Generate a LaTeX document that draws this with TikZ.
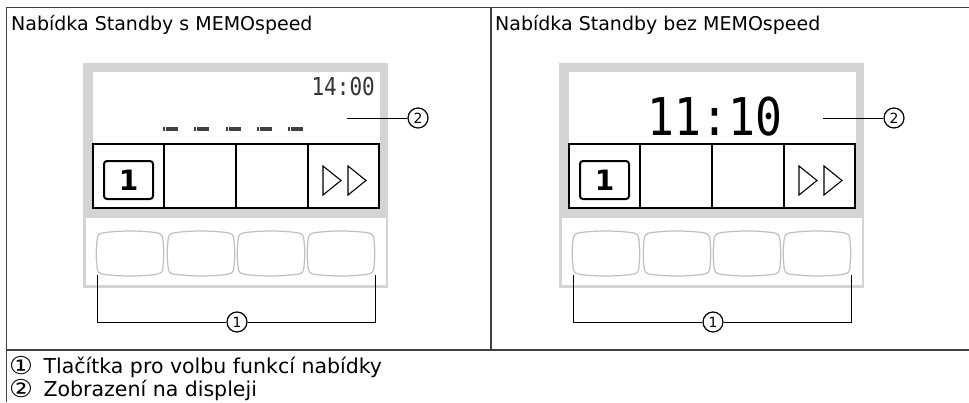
\documentclass[tikz,border=0pt]{standalone}
\usepackage{fontspec}
\usepackage{graphicx}
\setmainfont{DejaVu Sans}
\newfontfamily\lcdfont{DejaVu Sans Mono}
\usetikzlibrary{positioning}

\tikzset{
  grid line/.style={black!75,line width=1.5pt},
  key row/.style={draw=black,line width=1.8pt},
  soft key/.style={draw=black!25,line width=1.2pt},
  lcd dash/.style={black!75,line width=3.5pt,dash pattern=on 2.4pt off 0.7pt},
  callout/.style={draw,circle,line width=1.2pt,minimum size=20pt,inner sep=0pt,
    font=\fontsize{14}{14}\selectfont},
  leader/.style={black,line width=1pt},
  legend text/.style={anchor=base west,inner sep=0,font=\fontsize{20.5}{22}\selectfont},
}
\newcommand\legendmark[1]{\raisebox{-1.5pt}{\scalebox{1.3}[1.2]{#1}}\hspace{4pt}}

\begin{document}
\begin{tikzpicture}[x=1pt,y=-1pt,font=\fontsize{19}{21}\selectfont]
  \useasboundingbox (0,0) rectangle (969,402);
  % table
  \draw[grid line] (969,7.5) -- (6.5,7.5) -- (6.5,402);
  \draw[grid line] (6.5,350) -- (969,350);
  \draw[grid line] (491,7.5) -- (491,350);
  \node[anchor=base west,inner sep=0] (head1) at (11,30) {Nabídka Standby s MEMOspeed};
  \node[anchor=base west,inner sep=0] (head2) at (495,30) {Nabídka Standby bez MEMOspeed};
  % the device, once in each column
  \foreach \p in {0,476}{
    \begin{scope}[shift={(\p,0)}]
      \fill[black!17] (83,63) rectangle (388,288);
      \fill[white] (93,72) rectangle (380,208);
      \fill[white] (86,218) rectangle (385.5,284.5);
      \draw[key row] (93,144) rectangle (379,208);
      \foreach \x in {164,236,308} \draw[key row] (\x,144) -- (\x,208);
      \draw[black,line width=2pt,rounded corners=3pt] (104,161) rectangle (153,199);
      \node[font=\fontsize{28}{28}\selectfont\bfseries] (one\p) at (128.5,180.5) {1};
      \draw[black,line width=1.1pt] (323,166) -- (341,180.5) -- (323,195) -- cycle;
      \draw[black,line width=1.1pt] (348,166) -- (366,180.5) -- (348,195) -- cycle;
      % soft keys
      \foreach \k in {97,168,238,308}
        \draw[soft key] (\k+8,232.5) .. controls (\k+25,230.5) and (\k+41,230.5) .. (\k+58,232.5)
          .. controls (\k+64,233) and (\k+66,235) .. (\k+66,241)
          .. controls (\k+67,250) and (\k+67,257) .. (\k+66,266)
          .. controls (\k+66,272) and (\k+64,274) .. (\k+58,274.5)
          .. controls (\k+41,276.5) and (\k+25,276.5) .. (\k+8,274.5)
          .. controls (\k+2,274) and (\k,272) .. (\k,266)
          .. controls (\k-1,257) and (\k-1,250) .. (\k,241)
          .. controls (\k,235) and (\k+2,233) .. cycle;
      % callouts
      \coordinate (k1-\p) at (97,275);
      \coordinate (k4-\p) at (375,275);
      \node[callout,fill=white] (c1-\p) at (237,322) {1};
      \draw[leader] (k1-\p) |- (c1-\p.west);
      \draw[leader] (k4-\p) |- (c1-\p.east);
      \coordinate (s2-\p) at (347,118);
      \node[callout] (c2-\p) at (418,118) {2};
      \draw[leader] (s2-\p) -- (c2-\p.west);
    \end{scope}
  }
  % display contents
  \node[anchor=base east,inner sep=0,black!80,font=\lcdfont\fontsize{24.7}{25}\selectfont]
    (clock1) at (375,95) {\scalebox{0.85}[1]{14:00}};
  \foreach \d in {163,194,226,257,288}
    \draw[lcd dash] (\d,129) -- ++(15,0);
  \node[anchor=base,inner sep=0,font=\lcdfont\fontsize{52}{52}\selectfont]
    (clock2) at (715,135) {\scalebox{0.86}[1]{11:10}};
  % legend
  \node[legend text] (leg1) at (9,373) {\legendmark{①} Tlačítka pro volbu funkcí nabídky};
  \node[legend text] (leg2) at (9,396) {\legendmark{②} Zobrazení na displeji};
\end{tikzpicture}
\end{document}
